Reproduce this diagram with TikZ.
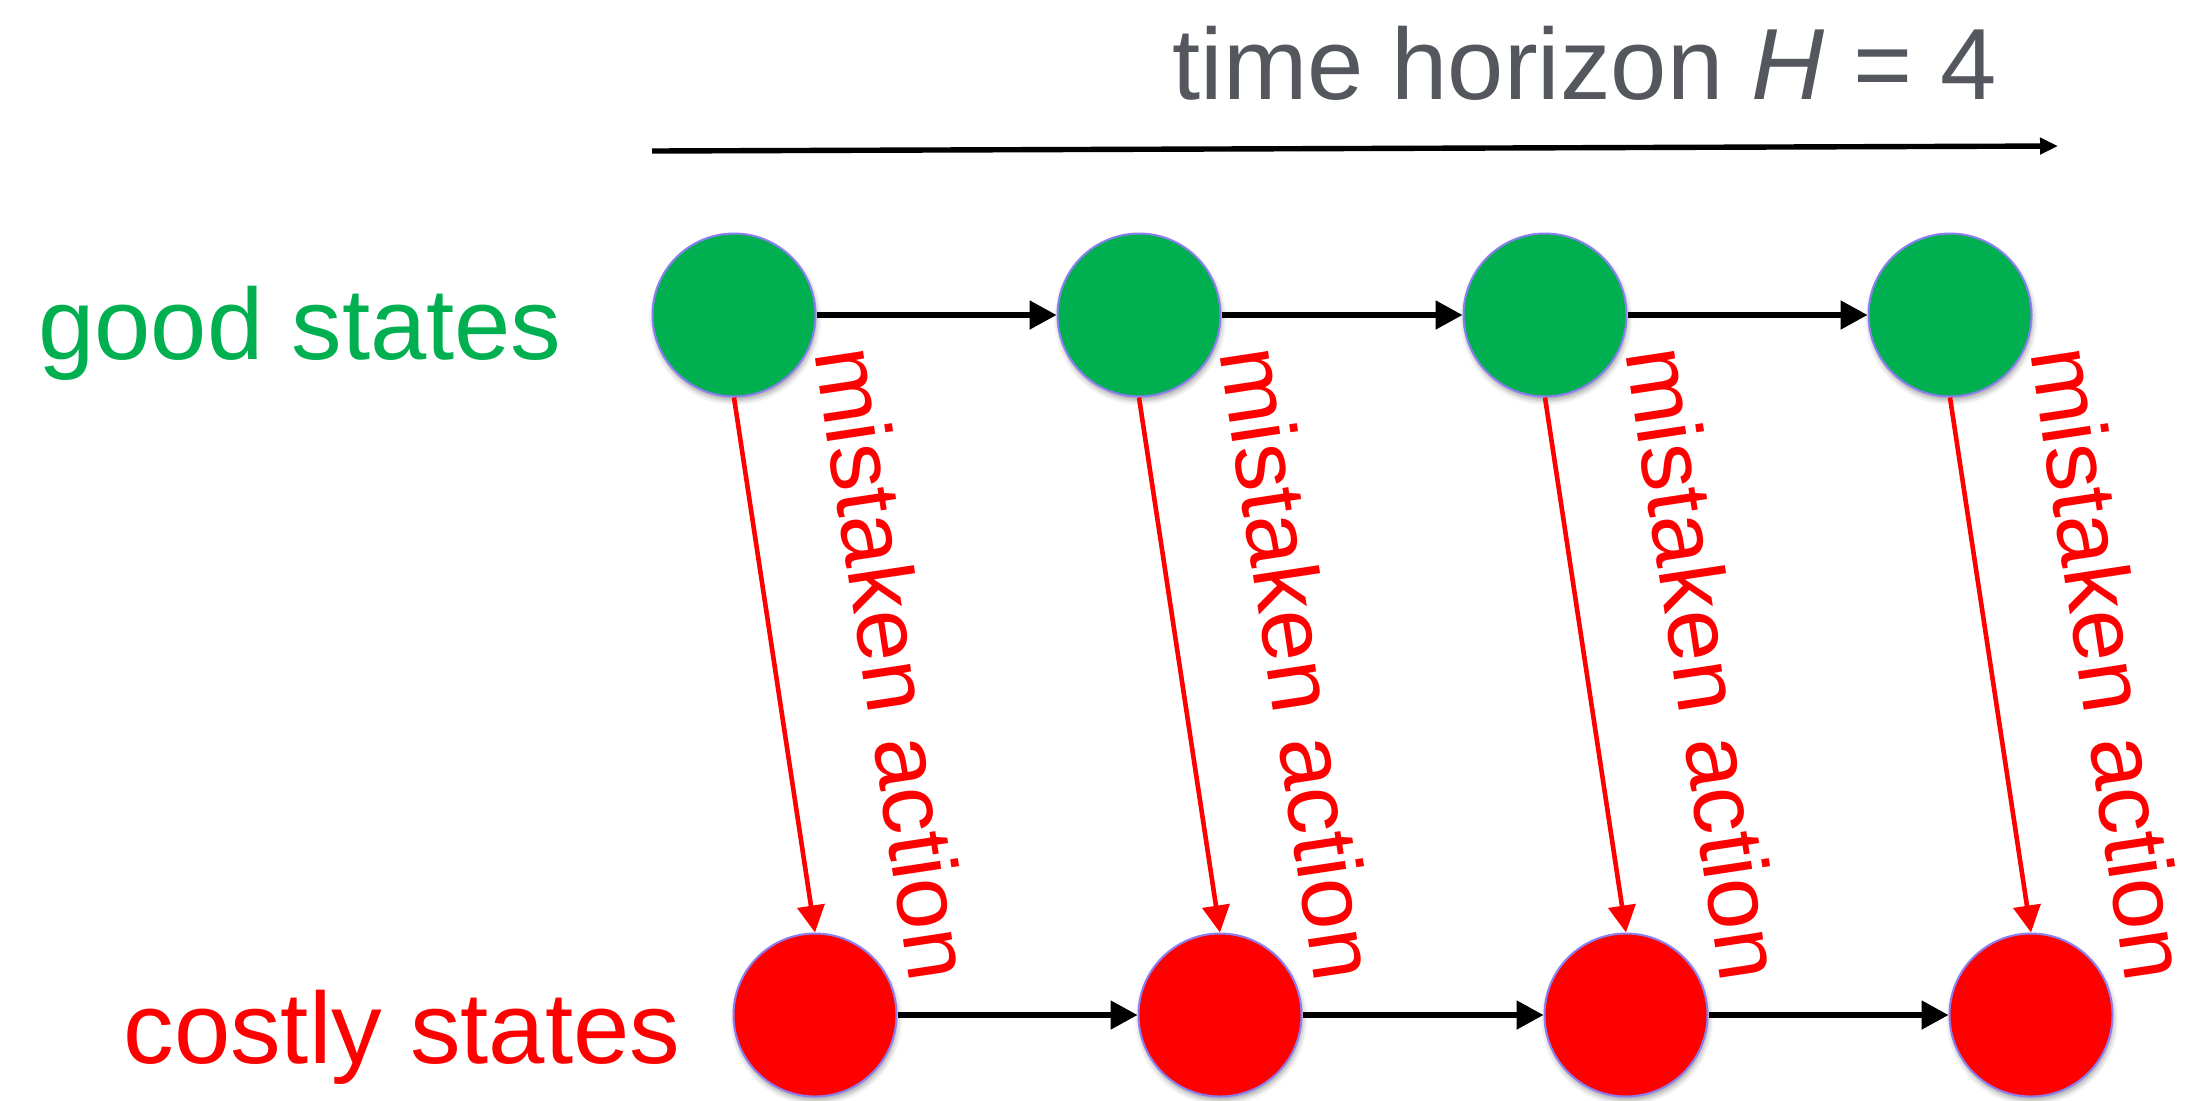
\documentclass[tikz,border=0pt]{standalone}
\usepackage{fontspec}
\setmainfont{Liberation Sans}
\usetikzlibrary{arrows.meta,shadows.blur}
\definecolor{goodgreen}{RGB}{0,176,80}
\definecolor{costred}{RGB}{255,0,0}
\definecolor{titlegray}{RGB}{84,87,93}
\definecolor{rimpurple}{RGB}{140,125,240}
\tikzset{
  state/.style={circle, draw=rimpurple, line width=1pt, inner sep=0pt,
    minimum size=81.5pt,
    blur shadow={shadow xshift=0.6pt, shadow yshift=-2pt,
      shadow blur radius=2.5pt, shadow opacity=35}},
  goodstate/.style={state, fill=goodgreen},
  badstate/.style={state, fill=costred},
  stepline/.style={draw=black, line width=2.6pt,
    -{Triangle[length=13.5pt, width=14pt]}},
  mistake/.style={draw=costred, line width=2.3pt,
    -{Triangle[length=13.5pt, width=13.5pt]}},
  mistakelbl/.style={sloped, pos=0.53, yshift=59.5pt, inner sep=0pt,
    text=costred, font=\fontsize{46pt}{50pt}\selectfont},
  rowlbl/.style={anchor=base west, inner sep=0pt,
    font=\fontsize{50.6pt}{55pt}\selectfont},
}
\begin{document}
\begin{tikzpicture}[x=0.5pt, y=-0.5pt]
  \useasboundingbox (0,0) rectangle (2207,1100);

  % time axis and its caption
  \node[rowlbl, text=titlegray] (title) at (1172,99) {time horizon \textit{H}\ =\ 4};
  \coordinate (t0) at (652,151);
  \coordinate (t1) at (2058,146);
  \draw[line width=2.7pt, -{Triangle[length=9pt, width=8pt]}] (t0) -- (t1);

  % row captions
  \node[rowlbl, text=goodgreen] (goodlbl) at (38,359) {good states};
  \node[rowlbl, text=costred] (costlbl) at (123,1063) {costly states};

  % states
  \foreach \i/\gx/\rx in {1/734/815, 2/1139/1220, 3/1545/1626, 4/1950/2031} {
    \node[goodstate] (g\i) at (\gx,315) {};
    \node[badstate] (r\i) at (\rx,1015) {};
  }

  % transitions along each row
  \foreach \a/\b in {1/2, 2/3, 3/4} {
    \draw[stepline] (g\a) -- (g\b);
    \draw[stepline] (r\a) -- (r\b);
  }

  % mistaken actions from good to costly states
  \foreach \i in {1,2,3,4} {
    \draw[mistake] (g\i.south) -- node[mistakelbl] (m\i) {mistaken action} (r\i.north);
  }
\end{tikzpicture}
\end{document}
